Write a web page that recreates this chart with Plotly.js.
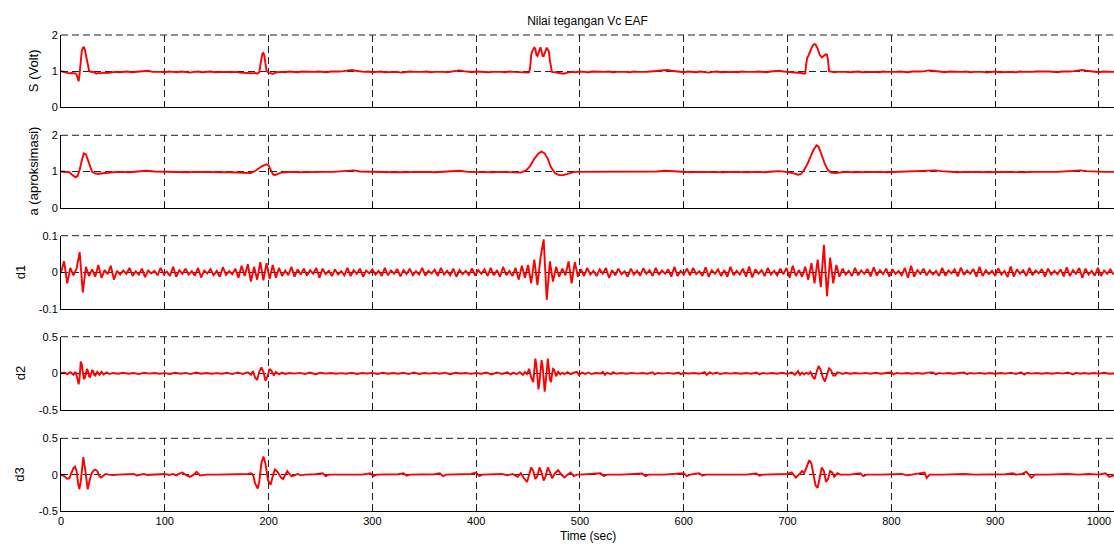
<!DOCTYPE html>
<html>
<head>
<meta charset="utf-8">
<script src="https://cdn.plot.ly/plotly-3.0.1.min.js"></script>
<style>html,body{margin:0;padding:0;background:#fff;overflow:hidden}#chart{width:1114px;height:544px}</style>
</head>
<body>
<div id="chart"></div>
<script>
// ---------- DATA ----------
const chartTitle = 'Nilai tegangan Vc EAF';
const xTitle = 'Time (sec)';
const panelTitles = ['S (Volt)', 'a (aproksimasi)', 'd1', 'd2', 'd3'];
const xTickVals = [0,100,200,300,400,500,600,700,800,900,1000];
const yTicks = [[0,1,2],[0,1,2],[-0.1,0,0.1],[-0.5,0,0.5],[-0.5,0,0.5]];
const yTickText = [['0','1','2'],['0','1','2'],['-0.1','0','0.1'],['-0.5','0','0.5'],['-0.5','0','0.5']];

// S (Volt) : time / value
const tS = [0,2,4,6,8,10,12,14,15,16,17,18,19,20,21,22,23,24,25,26,27,28,30,32,34,36,38,40,44,48,52,56,60,64,68,72,76,80,84,88,92,96,100,104,108,112,116,120,124,128,132,136,140,144,148,152,156,160,164,168,172,176,180,184,187,189,190,191,192,193,194,195,196,197,198,199,200,202,204,206,208,212,216,220,224,228,232,236,240,244,248,252,256,260,264,268,272,276,280,284,288,292,296,300,304,308,312,316,320,324,328,332,336,340,344,348,352,356,360,364,368,372,376,380,384,388,392,396,400,404,408,412,416,420,424,428,432,436,440,444,448,450,451,452,453,454,456,457,458,459,460,462,463,464,465,466,468,469,470,471,472,473,476,480,484,488,492,496,500,504,508,512,516,520,524,528,532,536,540,544,548,552,556,560,564,568,572,576,580,584,588,592,596,600,604,608,612,616,620,624,628,632,636,640,644,648,652,656,660,664,668,672,676,680,684,688,692,696,700,704,708,710,713,716,717,718,719,720,722,724,726,727,729,731,733,735,737,738,739,740,
 742,745,748,
 752,756,760,764,768,772,776,780,784,788,
 792,796,800,804,808,812,816,820,824,828,
 832,836,840,844,848,852,856,860,864,868,
 872,876,880,884,888,892,896,900,904,908,
 912,916,920,924,928,932,936,940,944,948,
 952,956,960,964,968,972,976,980,984,988,
 992,996,1000,1004,1008,1012,1016];
const vS = [1.0,0.98,0.97,0.95,0.94,0.95,0.95,0.94,0.9,0.8,0.72,0.95,1.3,1.55,1.64,1.66,1.6,1.45,1.25,1.1,1.02,0.99,0.98,0.97,0.93,0.95,0.94,0.96,0.95,0.97,0.98,0.97,0.98,0.99,0.97,0.98,1.0,1.02,1.01,0.98,0.99,0.98,0.97,0.99,0.98,0.97,0.99,0.98,0.96,0.98,0.99,0.97,0.98,0.99,0.97,0.98,0.99,0.98,0.97,0.98,0.96,0.95,0.96,0.94,0.95,0.93,0.95,0.97,1.15,1.35,1.48,1.5,1.42,1.2,1.02,0.98,0.97,0.95,0.92,0.95,0.97,0.98,0.97,0.99,0.98,0.97,0.99,0.98,0.97,0.98,0.99,0.98,0.97,0.99,0.98,0.99,1.0,1.02,1.03,1.01,0.99,0.98,0.99,0.97,0.98,0.99,0.97,0.98,0.99,0.98,0.96,0.98,0.99,0.98,0.97,0.98,0.99,0.97,0.98,0.99,0.98,0.97,0.99,1.01,1.02,1.0,0.98,0.97,0.99,0.98,0.99,0.97,0.98,0.99,0.98,0.97,0.99,0.98,0.97,0.96,0.95,0.96,0.97,1.1,1.45,1.55,1.65,1.62,1.45,1.42,1.5,1.66,1.55,1.42,1.42,1.5,1.65,1.6,1.55,1.3,1.05,0.98,0.97,0.95,0.93,0.96,0.98,0.97,0.99,0.98,0.97,0.99,0.98,0.97,0.98,0.99,0.97,0.98,0.99,0.98,0.97,0.99,0.98,0.97,0.98,0.99,1.0,1.01,1.02,1.03,1.01,0.99,0.98,0.97,0.99,0.98,0.97,0.99,0.98,0.96,0.98,0.99,0.97,0.98,0.99,0.98,0.97,0.99,0.98,0.97,0.98,0.99,0.98,0.97,0.99,1.0,1.01,0.99,0.98,0.97,0.96,0.97,0.95,0.93,0.94,1.2,1.38,1.42,1.55,1.7,1.75,1.74,1.62,1.45,1.38,1.42,1.47,1.45,1.3,1.0,
 0.98,0.97,0.98,
 0.99,0.98,0.97,0.98,0.99,0.97,0.98,0.99,0.98,0.97,
 0.99,0.98,0.97,0.98,0.99,0.98,0.97,0.99,0.98,0.99,
 1.0,1.02,1.01,0.99,0.98,0.97,0.99,0.98,0.97,0.98,
 0.99,0.97,0.98,0.99,0.98,0.96,0.98,0.99,0.97,0.98,
 0.99,0.98,0.97,0.99,0.98,0.97,0.98,0.99,0.98,0.99,
 0.99,0.98,0.97,0.99,0.98,0.99,1.0,1.02,1.03,1.01,
 0.99,0.98,0.97,0.99,0.98,0.97,0.98];

// a (aproksimasi)
const tA = [0,4,8,11,14,16,18,20,22,24,26,28,30,33,36,40,44,50,58,66,74,82,90,98,106,114,122,130,138,146,154,162,170,178,183,186,190,194,198,200,202,204,206,209,212,216,222,230,238,246,254,262,270,276,282,288,296,304,312,320,328,336,344,352,360,368,376,384,392,400,408,416,424,430,438,443,448,452,456,460,463,466,469,472,476,480,484,488,492,496,502,510,518,526,534,542,550,558,566,574,582,590,598,606,614,622,630,638,646,654,662,670,678,686,692,698,702,706,710,713,716,719,722,725,728,730,733,736,739,742,746,750,756,764,772,780,788,796,804,812,820,828,836,842,848,856,864,872,880,888,896,904,912,920,928,936,944,952,960,968,976,982,988,996,1004,1016];
const vA = [1.0,1.0,0.98,0.9,0.84,0.88,1.05,1.3,1.5,1.47,1.3,1.1,0.99,0.95,0.93,0.95,0.97,0.98,0.99,0.98,1.0,1.02,1.0,0.99,0.98,0.99,0.98,0.99,0.98,0.99,0.98,0.98,0.97,0.97,0.96,1.0,1.08,1.15,1.2,1.17,1.05,0.93,0.9,0.93,0.97,0.98,0.99,0.98,0.99,0.98,0.99,0.99,1.0,1.02,1.03,1.0,0.99,0.98,0.99,0.98,0.98,0.99,0.98,0.99,0.98,0.99,1.0,1.02,0.99,0.98,0.99,0.98,0.99,0.99,0.98,0.97,1.03,1.15,1.35,1.5,1.55,1.5,1.35,1.12,0.95,0.9,0.9,0.94,0.97,0.99,0.99,0.98,0.99,0.98,0.99,0.98,0.99,0.98,0.99,1.0,1.02,1.0,0.99,0.98,0.99,0.98,0.99,0.98,0.99,0.98,0.98,0.99,0.98,1.0,1.01,0.99,0.98,0.95,0.91,0.93,1.05,1.2,1.4,1.6,1.72,1.68,1.45,1.2,1.03,0.97,0.96,0.98,0.99,0.98,0.99,0.98,0.99,0.98,0.99,0.98,0.99,1.0,1.02,1.03,1.01,0.99,0.98,0.99,0.98,0.99,0.98,0.99,0.98,0.99,0.98,0.99,0.98,0.99,0.99,1.0,1.02,1.03,1.01,0.99,0.99,0.99];

// d1 : one value every 3 s, starting at t = 0
const d1Step = 3;
const vD1 = [
 0.0,0.03,-0.03,0.012,-0.008,0.01,0.055,-0.055,0.015,-0.01,
 0.008,-0.012,0.02,-0.015,0.006,-0.005,0.018,-0.02,0.004,-0.006,
 0.005,-0.004,0.012,-0.01,0.003,-0.006,0.01,-0.013,0.005,-0.003,
 0.004,-0.008,0.012,-0.005,0.002,-0.01,0.015,-0.012,0.006,-0.004,
 0.01,-0.006,0.003,-0.009,0.012,-0.014,0.005,-0.003,0.009,-0.008,
 0.004,-0.012,0.014,-0.007,0.003,-0.005,0.01,-0.015,0.018,-0.01,
 0.022,-0.025,0.015,-0.02,0.028,-0.022,0.025,-0.018,0.02,-0.015,
 0.012,-0.01,0.005,-0.008,0.015,-0.012,0.008,-0.006,0.01,-0.009,
 0.006,-0.004,0.012,-0.015,0.01,-0.005,0.004,-0.01,0.008,-0.006,
 0.003,-0.008,0.012,-0.01,0.006,-0.004,0.01,-0.012,0.005,-0.003,
 0.008,-0.006,0.004,-0.01,0.012,-0.008,0.005,-0.004,0.009,-0.011,
 0.006,-0.005,0.01,-0.008,0.003,-0.006,0.012,-0.009,0.004,-0.003,
 0.007,-0.01,0.012,-0.006,0.004,-0.008,0.01,-0.012,0.006,-0.005,
 0.004,-0.007,0.011,-0.009,0.006,-0.004,0.008,-0.01,0.012,-0.008,
 0.006,-0.012,0.015,-0.008,0.004,-0.01,0.012,-0.02,0.018,-0.015,
 0.02,-0.03,0.035,-0.035,0.04,0.09,-0.075,0.03,-0.025,0.015,
 -0.012,0.01,-0.008,0.03,-0.03,0.028,-0.012,0.008,-0.01,0.012,
 -0.006,0.004,-0.01,0.008,-0.004,0.012,-0.015,0.006,-0.008,0.01,
 -0.005,0.003,-0.012,0.01,-0.006,0.004,-0.009,0.011,-0.004,0.006,
 -0.01,0.012,-0.007,0.005,-0.004,0.008,-0.012,0.015,-0.01,0.004,
 -0.006,0.01,-0.008,0.012,-0.005,0.003,-0.01,0.014,-0.012,0.006,
 -0.004,0.008,-0.01,0.006,-0.012,0.015,-0.008,0.004,-0.006,0.01,
 -0.012,0.016,-0.014,0.008,-0.004,0.006,-0.01,0.012,-0.006,0.004,
 -0.008,0.01,-0.005,0.012,-0.015,0.018,-0.01,0.006,-0.012,0.015,
 -0.02,0.025,-0.03,0.035,-0.04,0.075,-0.065,0.04,-0.03,0.02,
 -0.012,0.01,-0.006,0.004,-0.01,0.012,-0.008,0.005,-0.004,0.009,
 -0.011,0.014,-0.009,0.006,-0.005,0.01,-0.012,0.008,-0.004,0.003,
 -0.008,0.012,-0.015,0.018,-0.012,0.006,-0.004,0.01,-0.008,0.005,
 -0.006,0.004,-0.01,0.012,-0.009,0.005,-0.003,0.008,-0.011,0.013,
 -0.007,0.005,-0.004,0.009,-0.012,0.015,-0.01,0.006,-0.005,0.004,
 -0.009,0.011,-0.006,0.004,-0.013,0.016,-0.012,0.008,-0.004,0.006,
 -0.01,0.012,-0.008,0.005,-0.003,0.009,-0.012,0.01,-0.006,0.004,
 -0.005,0.008,-0.011,0.014,-0.01,0.006,-0.004,0.012,-0.015,0.01,
 -0.006,0.004,-0.009,0.012,-0.01,0.005,-0.004,0.008,-0.006];

// d2
const tD2 = [0,3,6,9,12,14,16,17,18,19,20,21,22,23,24,25,26,27,28,29,30,31,32,33,35,37,39,41,44,47,50,55,60,65,70,75,80,85,90,95,100,105,110,115,120,125,130,135,140,145,150,155,160,165,170,175,180,183,185,187,189,191,193,195,197,199,201,203,205,207,210,213,216,220,225,230,235,240,245,250,255,260,265,270,275,280,285,290,295,300,305,310,315,320,325,330,335,340,345,350,355,360,365,370,375,380,385,390,395,400,405,410,415,420,425,430,433,436,439,442,445,447,449,451,453,455,456,457,458,459,460,461,462,463,464,465,466,467,468,469,470,471,472,473,474,475,476,477,479,481,483,485,488,491,494,497,499,502,505,508,511,515,520,522,524,526,530,532,535,540,545,550,555,560,565,570,572,575,580,585,590,595,597,600,605,610,615,620,622,625,628,632,635,640,645,650,655,660,665,670,673,676,680,685,690,695,700,704,707,710,712,714,716,718,720,722,724,726,728,730,732,734,736,738,740,742,744,746,748,750,753,756,760,765,770,775,780,785,790,795,800,802,805,810,815,820,825,830,835,840,843,846,850,855,860,865,870,873,876,880,885,890,895,900,905,910,915,920,925,928,931,935,940,945,950,955,960,965,970,975,978,982,986,990,995,1000,1005,1010,1016];
const vD2 = [0.0,0.01,-0.01,0.015,-0.02,0.02,-0.08,-0.15,-0.05,0.16,0.12,-0.02,-0.08,-0.06,0.03,0.06,0.03,-0.04,-0.05,-0.01,0.04,0.03,-0.02,-0.03,0.02,-0.02,0.02,-0.015,0.012,-0.01,0.005,-0.005,0.008,-0.006,0.004,-0.01,0.008,-0.004,0.005,-0.006,0.003,-0.008,0.01,-0.005,0.006,-0.01,0.012,-0.006,0.004,-0.005,0.003,-0.006,0.008,-0.01,0.012,-0.008,0.015,-0.02,0.03,-0.06,-0.09,0.02,0.08,0.02,-0.1,-0.04,0.06,0.03,-0.03,0.02,-0.015,0.01,-0.008,0.005,-0.004,0.006,-0.008,0.01,-0.012,0.008,-0.004,0.005,-0.006,0.003,-0.005,0.01,-0.008,0.004,-0.003,0.006,-0.008,0.01,-0.006,0.004,-0.005,0.007,-0.01,0.012,-0.008,0.004,-0.004,0.006,-0.005,0.01,-0.012,0.008,-0.003,0.005,-0.007,0.004,-0.006,0.01,-0.015,0.012,-0.008,0.015,-0.015,0.01,-0.012,0.015,-0.02,0.02,-0.01,0.06,-0.06,-0.12,0.05,0.2,0.12,-0.1,-0.22,-0.12,0.08,0.18,0.1,-0.1,-0.25,-0.12,0.12,0.2,0.08,-0.08,-0.12,-0.04,0.06,0.05,-0.02,-0.04,0.02,-0.015,0.01,-0.012,0.015,-0.01,0.008,0.02,-0.02,0.01,-0.008,0.012,-0.01,0.004,-0.003,0.02,-0.02,0.008,-0.01,0.015,-0.006,0.004,-0.005,0.006,-0.004,0.005,-0.006,0.015,-0.015,0.005,-0.004,0.006,-0.005,0.012,-0.012,0.004,-0.003,0.005,-0.006,0.018,-0.02,0.012,-0.006,0.012,-0.01,0.004,-0.004,0.005,-0.006,0.004,-0.005,0.012,-0.014,0.006,-0.004,0.005,-0.006,0.008,-0.01,0.015,-0.02,0.03,-0.02,0.01,-0.015,0.01,-0.01,0.02,-0.04,-0.08,0.02,0.1,0.04,-0.06,-0.11,-0.02,0.07,0.04,-0.03,-0.03,0.015,0.01,-0.01,0.008,-0.006,0.005,-0.004,0.006,-0.005,0.008,-0.006,0.004,0.015,-0.015,0.006,-0.004,0.005,-0.006,0.004,-0.005,0.01,0.012,-0.015,0.006,-0.004,0.005,-0.006,0.004,0.012,-0.012,0.005,-0.004,0.006,-0.005,0.004,-0.006,0.005,-0.004,0.01,-0.008,0.015,-0.018,0.008,-0.004,0.005,-0.006,0.004,-0.005,0.006,-0.004,0.012,-0.015,0.008,-0.005,0.004,-0.006,0.005,-0.004,0.008,-0.006,0.0];

// d3
const tD3 = [0,3,6,8,10,12,13.5,15,16.5,17.7,19,20.5,21.5,23,24.5,25.7,27,29,31,33,35,37,38.5,40,43,46,50,55,60,65,70,73,76,80,83,86,90,95,100,104,108,111,114,117,120,124,127,130.7,134,137,140,150,160,170,175,180,183,185,187,189.5,191,193,195,197,199.5,202,204,206,208,210,212,214,216,218,220,222,225,228,231,235,245,252,255,258,270,280,290,298,301,304,315,325,330,333,336,350,360,365,368,371,385,395,400,403,406,415,425,430,435,440,443,446,449,451,453,455,457,459,461,463,465,467,469,471,473,476,479,482,485,488,491,494,497,500,510,520,523,526,540,550,560,563,566,580,590,600,603,606,615,618,621,640,650,660,670,673,676,690,700,704,708,711,714,716,718,721,723,725,727,729,731,733,735,737,739,741,743,745,748,751,760,770,773,776,790,800,810,815,820,827,832,834,837,850,860,870,880,890,900,910,917,920,926,930,935,938,950,960,970,980,990,1000,1006,1010,1016];
const vD3 = [0,-0.02,-0.055,-0.05,0.02,0.09,0.11,0.05,-0.12,-0.2,-0.1,0.18,0.24,0.1,-0.12,-0.2,-0.12,0,0.05,0.07,0.05,-0.02,-0.04,-0.02,0.01,0,-0.005,0,0,0.005,0.01,-0.01,0,0.01,-0.005,0,0,0.005,0.01,-0.005,0.01,-0.01,0.015,0.03,0,-0.03,-0.01,0.04,-0.01,-0.005,0,0,0,0.005,0,0.01,0.02,0,-0.12,-0.19,-0.1,0.15,0.25,0.15,-0.08,-0.14,-0.02,0.07,0.05,0,-0.04,-0.06,0,0.05,0.01,-0.02,-0.01,0.01,-0.01,0,0.005,0.02,-0.02,0,0,0.005,0,0.02,-0.02,0,0,0.005,0.02,-0.015,0,0,0.005,0.02,-0.02,0,0,0.01,0.03,-0.02,0,0,0.01,-0.01,0.01,-0.03,0.02,-0.05,-0.1,0,0.1,0.05,-0.06,-0.02,0.1,0.03,-0.08,-0.02,0.1,0.04,-0.05,0.02,0.06,0,-0.04,0,0.03,-0.02,0,0,0.005,0.02,-0.02,0,0,0.005,0.015,-0.02,0,0,0.005,0.02,-0.02,0,0.02,-0.015,0,0,0.005,0,0.015,-0.015,0,0,0.01,0.03,-0.04,0,0.05,0.02,0.1,0.2,0.15,0,-0.15,-0.18,-0.05,0.1,0.05,-0.1,-0.06,0.05,0.03,-0.03,0.02,0,0,0.02,-0.02,0,0,0.005,0.01,-0.01,0,0.01,0.03,-0.045,0,0,0.005,0.01,0,0.005,0,0.005,0.02,0,0.01,0.04,-0.045,0,0,0.005,0.01,0,0.01,0,0.02,-0.03,0];

// ---------- CHART ----------
const xRange = [0, 1014.5];
const yRanges = [[0,2],[0,2],[-0.1,0.1],[-0.5,0.5],[-0.5,0.5]];
const domains = [[0.8481,1.0],[0.6372,0.7893],[0.4244,0.5784],[0.2122,0.3662],[0,0.1527]];
const tD1 = vD1.map((_, i) => i * d1Step);
const series = [[tS, vS],[tA, vA],[tD1, vD1],[tD2, vD2],[tD3, vD3]];

const red = 'rgb(255,0,0)';
const traces = series.map((s, i) => ({
  type: 'scatter', mode: 'lines', x: s[0], y: s[1],
  xaxis: i === 0 ? 'x' : 'x' + (i + 1), yaxis: i === 0 ? 'y' : 'y' + (i + 1),
  line: {color: red, width: 1.9}, hoverinfo: 'skip'
}));

const font = 'Liberation Sans, Arial, Helvetica, sans-serif';
const gridDash = '7px,4px';
const gridColor = '#222';
const layout = {
  width: 1114, height: 544,
  margin: {l: 61, r: 0, t: 35, b: 33, pad: 0},
  paper_bgcolor: '#ffffff', plot_bgcolor: '#ffffff',
  showlegend: false,
  font: {family: font, size: 11, color: '#000'},
  title: {text: chartTitle, font: {family: font, size: 12, color: '#000'},
          xref: 'paper', x: 0.5, xanchor: 'center', yref: 'container', y: 1 - 21/544, yanchor: 'middle'},
  annotations: [],
  shapes: []
};

for (let i = 0; i < 5; i++) {
  const sx = i === 0 ? '' : String(i + 1);
  layout['xaxis' + sx] = {
    anchor: 'y' + sx, domain: [0, 1], range: xRange, autorange: false,
    tickmode: 'array', tickvals: xTickVals, ticktext: xTickVals.map(String),
    showticklabels: i === 4, ticks: 'inside', ticklen: 4, tickwidth: 1, tickcolor: '#000',
    showline: true, linecolor: '#000', linewidth: 1,
    showgrid: true, gridcolor: gridColor, gridwidth: 1, griddash: gridDash,
    zeroline: false, tickfont: {family: font, size: 11, color: '#000'}
  };
  if (i > 0) layout['xaxis' + sx].matches = 'x';
  layout['yaxis' + sx] = {
    anchor: 'x' + sx, domain: domains[i], range: yRanges[i], autorange: false,
    tickmode: 'array', tickvals: yTicks[i], ticktext: yTickText[i],
    ticks: 'inside', ticklen: 4, tickwidth: 1, tickcolor: '#000',
    showline: true, linecolor: '#000', linewidth: 1,
    showgrid: true, gridcolor: gridColor, gridwidth: 1, griddash: gridDash,
    zeroline: false, tickfont: {family: font, size: 11, color: '#000'}
  };
  // dashed top edge of each panel (grid line at the upper limit)
  layout.shapes.push({
    type: 'line', xref: 'paper', x0: 0, x1: 1, yref: 'y' + sx + ' domain', y0: 1, y1: 1,
    line: {color: gridColor, width: 1, dash: gridDash}, layer: 'below'
  });
  layout.annotations.push({
    text: panelTitles[i], textangle: -90, showarrow: false,
    xref: 'paper', x: i < 2 ? (33 - 61) / 1053 : (20 - 61) / 1053, xanchor: 'center',
    yref: 'y' + sx + ' domain', y: 0.5, yanchor: 'middle',
    font: {family: font, size: 13, color: '#000'}
  });
}
layout.annotations.push({
  text: xTitle, showarrow: false, xref: 'paper', x: 0.5, xanchor: 'center',
  yref: 'paper', y: (511 - 536) / 476, yanchor: 'middle',
  font: {family: font, size: 12, color: '#000'}
});

Plotly.newPlot('chart', traces, layout, {displayModeBar: false, staticPlot: true});
</script>
</body>
</html>
